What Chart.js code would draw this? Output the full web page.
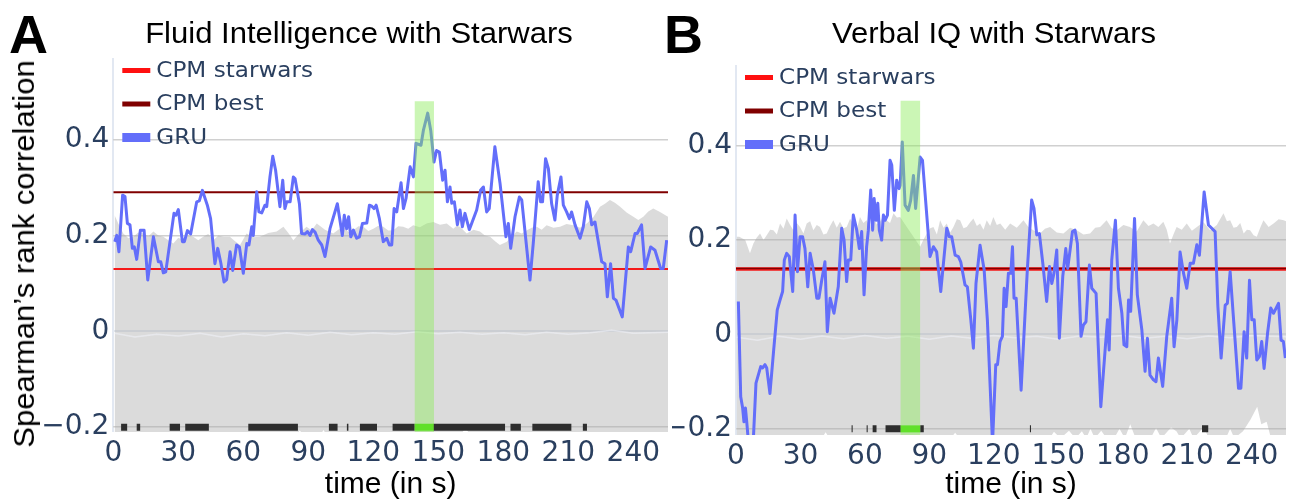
<!DOCTYPE html>
<html>
<head>
<meta charset="utf-8">
<script src="https://cdn.jsdelivr.net/npm/chart.js@4.4.1/dist/chart.umd.min.js"></script>
<style>
  html, body { margin:0; padding:0; background:#fff; width:1290px; height:503px; overflow:hidden; }
  .panel { position:absolute; top:0; height:503px; }
  #panelA { left:0; width:672px; }
  #panelB { left:672px; width:618px; }
  canvas { display:block; }
  .letter { position:absolute; font-family:'Liberation Sans', Arial, sans-serif; font-weight:bold; font-size:54px; line-height:54px; color:#000; }
  .title { position:absolute; width:600px; text-align:center; white-space:nowrap; font-family:'Liberation Sans', Arial, sans-serif;
           font-size:29px; line-height:29px; color:#000; transform:scaleX(1.07); }
  .ytitle { position:absolute; width:420px; height:36px; line-height:36px; text-align:center; white-space:nowrap;
            font-family:'Liberation Sans', Arial, sans-serif; font-size:29px; color:#000; transform:rotate(-90deg) scaleX(1.07); }
</style>
</head>
<body>
<div class="panel" id="panelA"><canvas id="chartA" width="672" height="503"></canvas></div>
<div class="panel" id="panelB"><canvas id="chartB" width="618" height="503"></canvas></div>
<div class="letter" style="left:9px;top:7px;">A</div>
<div class="letter" style="left:664px;top:7px;">B</div>
<div class="title" style="left:59px;top:18.5px;">Fluid Intelligence with Starwars</div>
<div class="title" style="left:693.5px;top:18.5px;">Verbal IQ with Starwars</div>
<div class="ytitle" style="left:-186px;top:236px;">Spearman’s rank correlation</div>
<script>
// ================= DATA =================
const xTicks = [0, 30, 60, 90, 120, 150, 180, 210, 240];
const yTicks = [-0.2, 0, 0.2, 0.4];
const timeRange = [0, 256];
const sigLevel = -0.2;

// ---- Panel A: Fluid Intelligence ----
const gruTimeA = [0.6,1.6,2.6,4.3,5.4,6.5,7.7,8.8,9.7,10.8,
  12.5,14.2,15.9,18.5,20.8,21.9,23.1,24.2,28.0,28.9,
  30.0,31.9,32.8,34.2,35.7,38.5,39.7,41.1,43.4,44.9,
  46.9,48.2,49.6,51.1,52.3,53.9,55.1,56.9,58.2,60.0,
  61.6,62.6,63.9,64.6,66.2,67.2,68.5,70.0,70.8,72.3,
  73.6,74.9,76.9,78.2,79.2,80.0,81.6,83.1,83.9,85.9,
  86.9,88.5,89.6,90.8,91.9,93.1,94.6,96.2,97.7,100.0,
  103.4,105.7,106.6,107.7,108.6,109.6,110.8,112.3,113.6,115.0,
  117.0,118.2,119.3,120.3,121.3,122.8,124.6,126.2,127.4,128.5,
  129.6,130.8,132.8,133.9,135.1,137.0,138.5,139.7,142.0,143.1,
  145.1,146.5,148.0,149.2,150.5,152.0,153.1,154.2,155.4,156.2,
  157.4,158.8,160.0,161.1,162.3,164.3,167.7,169.5,170.8,172.3,
  173.5,176.1,178.5,181.2,182.3,183.4,185.4,187.4,188.5,192.3,
  193.8,196.1,197.2,198.1,199.5,200.8,202.3,203.8,204.9,206.6,
  207.7,209.2,210.5,211.5,213.1,215.4,216.9,218.5,219.7,220.8,
  222.3,225.4,226.9,228.0,229.5,230.8,232.0,234.9,237.7,238.8,
  240.8,241.8,243.8,245.4,248.0,250.0,252.6,253.8,255.4];
const gruCorrA = [0.187,0.2,0.166,0.284,0.281,0.225,0.222,0.173,0.176,0.15,
  0.211,0.211,0.107,0.197,0.145,0.145,0.122,0.124,0.246,0.242,
  0.254,0.187,0.187,0.21,0.203,0.27,0.272,0.294,0.263,0.235,
  0.141,0.173,0.143,0.103,0.108,0.166,0.127,0.18,0.176,0.121,
  0.183,0.18,0.218,0.2,0.291,0.249,0.247,0.263,0.26,0.322,
  0.365,0.336,0.26,0.315,0.256,0.27,0.27,0.322,0.318,0.266,
  0.204,0.203,0.208,0.2,0.212,0.207,0.19,0.18,0.156,0.214,
  0.266,0.2,0.242,0.214,0.239,0.197,0.211,0.194,0.197,0.225,
  0.226,0.263,0.261,0.256,0.263,0.235,0.187,0.194,0.18,0.18,
  0.256,0.249,0.31,0.256,0.277,0.343,0.322,0.392,0.388,0.419,
  0.455,0.419,0.353,0.377,0.374,0.315,0.336,0.27,0.301,0.267,
  0.27,0.222,0.253,0.218,0.246,0.212,0.253,0.294,0.301,0.249,
  0.256,0.385,0.308,0.197,0.225,0.173,0.239,0.28,0.274,0.107,
  0.183,0.312,0.27,0.27,0.36,0.339,0.266,0.232,0.284,0.322,
  0.263,0.249,0.235,0.249,0.222,0.194,0.218,0.27,0.256,0.222,
  0.228,0.145,0.141,0.072,0.141,0.069,0.065,0.03,0.176,0.166,
  0.204,0.204,0.222,0.131,0.176,0.169,0.131,0.131,0.19];
const nullUpTimeA = [0.6,2.3,4.6,7.0,9.2,11.5,13.9,16.2,18.5,20.8,23.1,25.4,27.7,30.0,32.3,34.6,36.9,39.2,
  41.5,43.8,46.2,48.5,50.8,53.8,56.2,58.5,61.5,64.6,67.7,71.5,75.4,78.5,80.8,83.1,86.2,
  89.2,91.5,93.9,97.7,101.5,103.8,106.2,108.5,110.8,113.1,115.4,117.7,120.0,122.3,124.6,126.9,129.2,131.5,133.8,
  136.1,138.4,141.5,144.6,147.7,150.8,153.9,156.9,158.5,160.0,163.1,166.2,169.2,171.5,173.9,176.2,178.4,181.6,183.9,186.2,188.5,190.9,
  193.1,195.4,197.7,200.0,203.1,206.2,209.2,212.3,215.4,218.5,221.5,224.6,226.9,229.2,231.5,233.9,236.9,240.0,242.3,244.6,246.9,249.2,252.3,256];
const nullUpA = [0.242,0.225,0.204,0.194,0.197,0.206,0.204,0.198,0.208,0.2,0.197,0.19,0.183,0.195,0.19,0.2,0.197,0.19,
  0.197,0.203,0.19,0.2,0.197,0.197,0.188,0.18,0.204,0.196,0.197,0.205,0.208,0.218,0.205,0.19,0.206,
  0.218,0.21,0.225,0.212,0.204,0.212,0.218,0.207,0.211,0.219,0.218,0.209,0.214,0.22,0.218,0.21,0.211,0.219,0.218,
  0.214,0.221,0.217,0.225,0.228,0.222,0.225,0.214,0.22,0.218,0.204,0.212,0.208,0.2,0.197,0.188,0.18,0.187,0.198,0.208,0.204,0.211,
  0.216,0.218,0.212,0.221,0.216,0.218,0.224,0.221,0.216,0.225,0.238,0.26,0.266,0.274,0.268,0.26,0.248,0.239,0.232,0.239,0.25,0.256,0.249,0.239];
const nullLowTimeA = [0.6,84,86,89,95,97,99,160,162.5,165,256];
const nullLowA = [-0.22,-0.22,-0.207,-0.22,-0.22,-0.206,-0.22,-0.22,-0.2,-0.22,-0.22];
const nullMeanTimeA = [0.6,10,20,30,40,50,60,70,80,90,100,110,120,130,140,150,160,170,180,190,200,210,220,230,240,256];
const nullMeanA = [-0.004,-0.012,-0.006,-0.01,-0.004,-0.012,-0.005,-0.009,-0.003,-0.008,-0.002,-0.007,-0.003,-0.006,-0.001,-0.005,-0.002,-0.006,-0.003,-0.007,-0.002,-0.006,-0.003,0.002,-0.004,-0.002];
const cpmStarwarsA = 0.13;
const cpmBestA = 0.29;
const sigStartA = [3.6,10.8,26.0,33.2,62.3,99.5,107.8,113.8,128.9,147.8,183.3,193.4,216.7];
const sigEndA   = [6.4,12.4,30.8,44.1,85.2,103.5,108.5,121.7,139.0,180.8,188.1,211.4,218.6];
const peakWindowA = [139.0, 148.0];
const peakTopA = 0.48;

// ---- Panel B: Verbal IQ ----
const gruTimeB = [1.1,2.2,3.1,3.7,4.4,5.0,6.2,8.1,9.3,11.5,
  12.4,13.5,14.3,15.8,17.4,19.2,20.5,21.7,22.5,23.6,
  24.8,26.4,27.5,28.6,29.8,31.0,32.1,33.4,34.5,36.0,
  37.6,38.6,39.9,41.4,42.5,43.8,45.6,47.6,49.2,50.3,
  51.5,52.3,53.4,54.6,56.2,57.4,58.5,59.6,60.8,61.6,
  62.7,63.6,64.3,65.2,66.0,66.7,67.8,68.6,69.4,70.5,
  71.7,72.5,73.7,74.8,75.9,76.4,77.4,78.7,80.2,81.3,
  82.6,83.6,84.9,85.7,86.8,90.3,91.9,93.4,95.3,98.1,
  99.3,100.4,102.0,103.5,104.6,106.6,107.7,109.3,110.5,111.7,
  113.6,115.5,117.0,119.4,120.9,121.7,122.9,124.0,124.8,125.7,
  126.8,127.9,128.7,129.4,130.4,132.7,135.6,137.6,138.7,140.0,
  141.2,142.8,144.6,145.9,147.0,148.0,149.3,150.5,152.1,153.5,
  154.4,155.5,156.6,157.8,158.9,160.6,161.7,162.9,164.5,165.6,
  167.6,169.8,171.8,172.9,173.7,174.9,176.6,178.0,179.6,180.6,
  181.9,182.7,183.7,185.5,186.8,188.9,190.4,191.5,192.7,194.3,
  195.5,196.6,198.6,200.5,202.8,203.9,205.2,206.7,208.3,209.8,
  211.4,212.9,214.5,215.7,217.9,219.9,223.0,224.3,225.8,227.7,
  228.7,230.0,231.5,233.9,235.0,236.5,237.7,239.0,240.1,241.2,
  242.4,243.6,244.7,245.8,247.4,248.9,250.2,251.4,252.5,253.7,
  254.8,255.7];
const gruCorrB = [0.07,-0.132,-0.156,-0.185,-0.156,-0.185,-0.25,-0.22,-0.103,-0.068,
  -0.071,-0.064,-0.071,-0.125,-0.04,0.052,0.073,0.091,0.158,0.172,
  0.165,0.091,0.253,0.133,0.207,0.207,0.182,0.101,0.172,0.137,
  0.077,0.077,0.115,0.154,0.006,0.077,0.045,0.101,0.225,0.2,
  0.112,0.158,0.158,0.253,0.221,0.182,0.218,0.084,0.186,0.221,
  0.306,0.221,0.288,0.242,0.278,0.221,0.2,0.253,0.242,0.253,
  0.369,0.359,0.263,0.327,0.309,0.316,0.408,0.274,0.263,0.284,
  0.337,0.267,0.334,0.376,0.369,0.165,0.186,0.175,0.091,0.225,
  0.207,0.207,0.168,0.165,0.154,0.105,0.101,0.031,-0.029,0.108,
  0.189,0.137,0.031,-0.23,-0.064,-0.064,-0.015,-0.004,0.098,0.059,
  0.13,0.13,0.186,0.077,0.077,-0.118,0.137,0.285,0.267,0.211,
  0.214,0.151,0.07,0.144,0.108,0.13,0.179,-0.008,0.123,0.182,
  0.14,0.179,0.218,0.221,0.193,-0.004,0.02,0.027,0.147,0.098,
  0.087,-0.153,-0.033,0.031,-0.033,0.158,0.242,0.098,0.045,-0.022,
  -0.026,0.073,0.049,0.246,0.084,0.01,-0.078,-0.008,-0.086,-0.096,
  -0.1,-0.05,-0.11,-0.004,0.077,-0.026,0.031,0.175,0.13,0.098,
  0.151,0.151,0.19,0.168,0.302,0.232,0.218,0.059,-0.05,0.062,
  0.066,0.133,0.038,-0.114,-0.114,0.006,-0.05,0.115,0.031,0.031,
  -0.054,-0.047,-0.015,-0.072,0.002,0.056,0.045,0.056,0.066,-0.012,
  -0.015,-0.05];
const nullUpTimeB = [0.3,1.5,4.3,6.5,8.1,9.6,11.2,12.8,14.3,15.9,17.4,19.0,20.5,22.1,23.6,25.2,26.7,28.3,29.8,31.4,32.9,34.5,36.0,37.6,39.1,40.7,42.2,43.8,45.3,46.9,48.4,50.0,51.5,53.1,54.6,56.2,
  57.7,59.3,60.8,62.4,63.9,65.5,67.0,68.6,70.1,71.7,73.3,74.9,76.4,79.5,82.6,85.7,87.2,
  88.8,90.4,91.9,93.5,95.0,96.6,98.1,99.7,101.2,102.8,104.3,105.9,107.4,109.0,110.5,112.1,113.6,115.2,116.7,118.3,
  119.8,121.4,123.0,125.3,127.6,130.7,133.8,136.1,138.4,141.5,143.8,146.2,149.3,152.4,155.5,158.6,161.7,164.8,167.2,169.5,172.5,174.9,177.2,180.3,183.4,186.5,189.6,192.0,194.3,196.6,
  198.9,200.5,202.0,203.6,205.1,207.5,209.8,212.2,214.5,217.6,220.7,223.8,226.9,228.5,230.0,231.6,233.1,234.7,236.3,237.8,239.3,240.9,242.4,244.0,245.5,247.9,250.2,252.6,254.9,256];
const nullUpB = [0.207,0.207,0.2,0.172,0.193,0.205,0.214,0.2,0.21,0.222,0.221,0.212,0.235,0.224,0.246,0.232,0.221,0.236,0.228,0.214,0.235,0.24,0.221,0.232,0.228,0.212,0.214,0.23,0.242,0.226,0.239,0.225,0.228,0.245,0.235,0.222,
  0.249,0.236,0.242,0.228,0.249,0.233,0.239,0.25,0.242,0.236,0.257,0.248,0.249,0.228,0.207,0.186,0.2,
  0.214,0.225,0.228,0.212,0.242,0.226,0.235,0.216,0.228,0.244,0.242,0.225,0.228,0.238,0.246,0.23,0.235,0.222,0.242,0.23,
  0.249,0.232,0.235,0.222,0.235,0.226,0.242,0.228,0.221,0.214,0.224,0.228,0.216,0.214,0.226,0.221,0.212,0.214,0.226,0.228,0.242,0.225,0.221,0.232,0.228,0.218,0.242,0.23,0.235,0.228,
  0.239,0.222,0.193,0.212,0.228,0.222,0.235,0.22,0.228,0.238,0.221,0.232,0.257,0.24,0.242,0.226,0.228,0.236,0.214,0.222,0.221,0.21,0.207,0.226,0.242,0.228,0.235,0.244,0.242,0.24];
const nullLowTimeB = [0.3,40,41.7,43.5,100,102,104,146,148,151,155,158,161,163,165,167,170,172.5,176,178.5,
  181,183.5,186,193,195.5,198,202.5,205,207,211,213,217.8,220,228,230,232,236,239.5,242.6,244.5,247,249,256];
const nullLowB = [-0.22,-0.22,-0.207,-0.22,-0.22,-0.208,-0.22,-0.22,-0.206,-0.22,-0.204,-0.22,-0.205,-0.22,-0.2,-0.22,-0.204,-0.22,-0.22,-0.2,
  -0.22,-0.19,-0.22,-0.22,-0.198,-0.22,-0.197,-0.205,-0.22,-0.2,-0.22,-0.196,-0.22,-0.22,-0.2,-0.22,-0.205,-0.18,-0.153,-0.19,-0.185,-0.22,-0.22];
const nullMeanTimeB = [0.3,10,20,30,40,50,60,70,80,90,100,110,120,130,140,150,160,170,180,190,200,210,220,230,240,256];
const nullMeanB = [-0.006,-0.012,-0.004,-0.01,-0.003,-0.009,-0.002,-0.008,-0.004,-0.01,-0.003,-0.008,-0.002,-0.007,-0.004,-0.01,-0.003,-0.006,-0.002,-0.008,-0.004,-0.009,-0.003,-0.007,-0.002,-0.005];
const cpmStarwarsB = 0.139;
const cpmBestB = 0.14;
const sigStartB = [53.8,60.8,63.6,69.6,85.8,136.8,216.9];
const sigEndB   = [54.3,61.3,65.4,76.6,87.4,137.3,219.8];
const peakWindowB = [76.5, 85.8];
const peakTopB = 0.495;

// ================= HELPERS =================
function pts(xs, ys) {
  const n = Math.min(xs.length, ys.length), out = [];
  for (let i = 0; i < n; i++) out.push({x: xs[i], y: ys[i]});
  return out;
}
function segs(starts, ends, level) {
  const out = [];
  starts.forEach((s, i) => { out.push({x: s, y: level}, {x: ends[i], y: level}, {x: ends[i], y: null}); });
  return out;
}
function hline(v, x0, x1) { return [{x: x0, y: v}, {x: x1, y: v}]; }
function fmtTick(v) {
  if (Math.abs(v) < 1e-9) return '0';
  return (v < 0 ? '\u2212' : '') + Math.abs(v).toFixed(1);
}

const TICK_COLOR = '#2a3f5f';
const TICK_FONT = {family: "'DejaVu Sans', Verdana, sans-serif", size: 28};
const AXIS_TITLE_FONT = {family: "'Liberation Sans', Arial, sans-serif", size: 30};

const insideLegend = {
  id: 'insideLegend',
  afterDraw(chart) {
    const {ctx, chartArea} = chart;
    const items = chart.data.datasets.filter(d => d.inLegend);
    ctx.save();
    items.forEach((d, i) => {
      const y = chartArea.top + 12.5 + i * 33.5;
      ctx.strokeStyle = d.legendColor || d.borderColor;
      ctx.lineWidth = d.legendWidth;
      ctx.lineCap = 'butt';
      ctx.beginPath();
      ctx.moveTo(chartArea.left + 9, y);
      ctx.lineTo(chartArea.left + 37, y);
      ctx.stroke();
      ctx.save();
      ctx.translate(chartArea.left + 43, y + 1);
      ctx.scale(1.1, 1);
      ctx.fillStyle = TICK_COLOR;
      ctx.font = "21px 'DejaVu Sans', Verdana, sans-serif";
      ctx.textBaseline = 'middle';
      ctx.textAlign = 'left';
      ctx.fillText(d.label, 0, 0);
      ctx.restore();
    });
    ctx.restore();
  }
};

function build(id, P, L) {
  const datasets = [
    {label: 'CPM starwars', data: hline(P.cpmStar, timeRange[0], timeRange[1]), borderColor: 'rgb(245,25,25)', legendColor: '#ff1010',
     borderWidth: L.starW, order: 4, inLegend: true, legendWidth: 5},
    {label: 'CPM best', data: hline(P.cpmBest, timeRange[0], timeRange[1]), borderColor: '#800000',
     borderWidth: L.bestW, order: 3, inLegend: true, legendWidth: 5},
    {label: 'GRU', data: pts(P.gruT, P.gruV), borderColor: '#636efa', borderWidth: 3,
     borderJoinStyle: 'round', order: 1, inLegend: true, legendWidth: 9},
    {label: 'significant', data: segs(P.sigS, P.sigE, sigLevel), borderColor: '#2e2e2e', borderWidth: 7,
     borderCapStyle: 'butt', spanGaps: false, order: 2},
    {label: 'peak significant', data: hline(sigLevel, P.win[0], P.win[1]), borderColor: 'rgb(60,215,0)', borderWidth: 7,
     borderCapStyle: 'butt', order: 2},
    {label: 'peak window', data: hline(P.winTop, P.win[0], P.win[1]), borderColor: 'rgba(0,0,0,0)', borderWidth: 0,
     backgroundColor: 'rgba(140,235,90,0.45)', fill: 'start', order: 0},
    {label: 'null mean', data: pts(P.meanT, P.meanV), borderColor: 'rgba(240,242,248,0.6)', borderWidth: 1.5, order: 5},
    {label: 'null upper', data: pts(P.upT, P.upV), borderColor: 'rgba(0,0,0,0)', borderWidth: 0,
     backgroundColor: 'rgba(170,170,170,0.42)', fill: '+1', order: 6},
    {label: 'null lower', data: pts(P.lowT, P.lowV), borderColor: 'rgba(0,0,0,0)', borderWidth: 0,
     backgroundColor: 'rgba(0,0,0,0)', fill: false, order: 7}
  ];
  return new Chart(document.getElementById(id), {
    type: 'line',
    data: {datasets},
    options: {
      responsive: false,
      animation: false,
      elements: {point: {radius: 0, hitRadius: 0, hoverRadius: 0}, line: {tension: 0}},
      layout: {padding: {left: L.padL, right: L.padR, top: L.top, bottom: 0}},
      plugins: {legend: {display: false}, tooltip: {enabled: false}, title: {display: false}},
      scales: {
        x: {
          type: 'linear', min: timeRange[0], max: timeRange[1],
          afterBuildTicks: s => { s.ticks = xTicks.map(v => ({value: v})); },
          afterFit: s => { s.height = L.xAxisH; },
          ticks: {autoSkip: false, maxRotation: 0, padding: L.xTickPad, color: TICK_COLOR, font: TICK_FONT,
                  callback: v => String(v)},
          grid: {drawTicks: false, lineWidth: 2,
                 color: c => (c.tick && c.tick.value === 0) ? '#e2e8f2' : 'rgba(0,0,0,0)'},
          border: {display: false},
          title: {display: true, text: 'time (in s)', color: '#000', font: AXIS_TITLE_FONT, padding: {top: 0, bottom: 0}}
        },
        y: {
          type: 'linear', min: L.yMin, max: L.yMax,
          afterBuildTicks: s => { s.ticks = yTicks.map(v => ({value: v})); },
          afterFit: s => { s.width = L.yAxisW; },
          ticks: {padding: 4, color: TICK_COLOR, font: TICK_FONT, callback: v => fmtTick(v)},
          grid: {drawTicks: false,
                 lineWidth: c => (c.tick && Math.abs(c.tick.value) < 1e-9) ? 2 : 1.5,
                 color: c => (c.tick && Math.abs(c.tick.value) < 1e-9) ? '#e4e9f1' : '#d0d0d0'},
          border: {display: false},
          title: {display: false}
        }
      }
    },
    plugins: [insideLegend]
  });
}

build('chartA', {
  gruT: gruTimeA, gruV: gruCorrA, upT: nullUpTimeA, upV: nullUpA, lowT: nullLowTimeA, lowV: nullLowA,
  meanT: nullMeanTimeA, meanV: nullMeanA, cpmStar: cpmStarwarsA, cpmBest: cpmBestA,
  sigS: sigStartA, sigE: sigEndA, win: peakWindowA, winTop: peakTopA
}, {padL: 0, padR: 4, top: 58, yAxisW: 113.3, xAxisH: 71, xTickPad: 5, yMin: -0.21, yMax: 0.57, starW: 2, bestW: 2});

build('chartB', {
  gruT: gruTimeB, gruV: gruCorrB, upT: nullUpTimeB, upV: nullUpB, lowT: nullLowTimeB, lowV: nullLowB,
  meanT: nullMeanTimeB, meanV: nullMeanB, cpmStar: cpmStarwarsB, cpmBest: cpmBestB,
  sigS: sigStartB, sigE: sigEndB, win: peakWindowB, winTop: peakTopB
}, {padL: 0, padR: 4, top: 65, yAxisW: 64, xAxisH: 68, xTickPad: 5, yMin: -0.213, yMax: 0.571, starW: 3.5, bestW: 1.5});
</script>
</body>
</html>
